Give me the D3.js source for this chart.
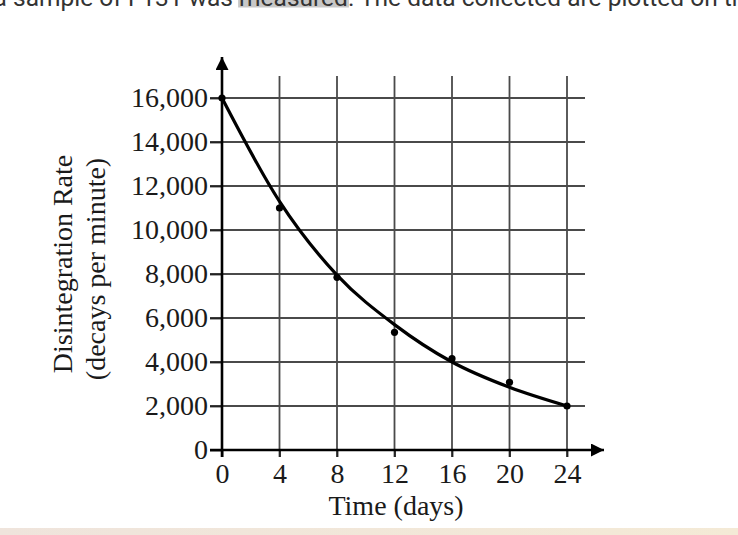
<!DOCTYPE html>
<html>
<head>
<meta charset="utf-8">
<script src="https://cdn.jsdelivr.net/npm/d3@7"></script>
<style>
html,body{margin:0;padding:0;background:#fff;overflow:hidden;}
svg{display:block;}
text{white-space:pre;}
</style>
</head>
<body>
<svg id="chart" width="738" height="535"></svg>
<script>
// Data
const days = [0, 4, 8, 12, 16, 20, 24];
const measuredRates = [16000, 11000, 7850, 5350, 4150, 3080, 2000];
const curveDays = [0, 4, 8, 12, 16, 20, 24];
const curveRates = [16000, 11300, 7950, 5700, 4000, 2850, 2000];
const xTicks = [0, 4, 8, 12, 16, 20, 24];
const yTicks = [0, 2000, 4000, 6000, 8000, 10000, 12000, 14000, 16000];
const xTitle = "Time (days)";
const yTitle1 = "Disintegration Rate";
const yTitle2 = "(decays per minute)";
const topTextA = "a ";
const topTextB = "sample of I-131 was ";
const topTextC = "measured";
const topTextD = ". The data collected are plotted on the graph below.";

const svg = d3.select("#chart");

// bottom beige band
const defs = svg.append("defs");
const grad = defs.append("linearGradient").attr("id", "band").attr("x1", "0").attr("x2", "1");
grad.append("stop").attr("offset", "0").attr("stop-color", "#efe4dc");
grad.append("stop").attr("offset", "1").attr("stop-color", "#f4ead6");
svg.append("rect").attr("x", 0).attr("y", 528).attr("width", 738).attr("height", 7).attr("fill", "url(#band)");

// top clipped text
const topG = svg.append("g").attr("font-family", "Roboto, 'Noto Sans', sans-serif").attr("font-size", 24.5).attr("fill", "#333");
const hl = topG.append("rect").attr("fill", "#c8c8c8");
const tB = topG.append("text").attr("x", 13).attr("y", 6).text(topTextB);
topG.append("text").attr("x", 13).attr("y", 6).attr("text-anchor", "end").text(topTextA);
const wB = tB.node().getComputedTextLength();
const tC = topG.append("text").attr("x", 13 + wB).attr("y", 6).text(topTextC);
const wC = tC.node().getComputedTextLength();
hl.attr("x", 13 + wB - 1).attr("y", -20).attr("width", wC + 2).attr("height", 27.5);
topG.append("text").attr("x", 13 + wB + wC).attr("y", 6).text(topTextD);

// scales
const x = d3.scaleLinear().domain([0, 24]).range([222, 567]);
const y = d3.scaleLinear().domain([0, 16000]).range([450, 98]);

const gridColor = "#4a4a4a";
const serif = "'Liberation Serif', 'DejaVu Serif', serif";
const ink = "#1a1a1a";

// vertical gridlines
svg.append("g").selectAll("line").data(xTicks.filter(d => d > 0)).join("line")
  .attr("x1", d => x(d)).attr("x2", d => x(d))
  .attr("y1", 76).attr("y2", 457)
  .attr("stroke", gridColor).attr("stroke-width", 1.8);

// horizontal gridlines
svg.append("g").selectAll("line").data(yTicks.filter(d => d > 0)).join("line")
  .attr("x1", 210).attr("x2", 585)
  .attr("y1", d => y(d)).attr("y2", d => y(d))
  .attr("stroke", gridColor).attr("stroke-width", 1.8);

// y axis with labels
const yAxis = d3.axisLeft(y).tickValues(yTicks).tickFormat(d3.format(",")).tickSize(12).tickPadding(2);
const yg = svg.append("g").attr("transform", "translate(222,0)").call(yAxis);
yg.select(".domain").remove();
yg.selectAll(".tick line").attr("stroke", "#222").attr("stroke-width", 1.8);
yg.selectAll(".tick text").attr("font-family", serif).attr("font-size", 28).attr("fill", ink);

// x axis labels
const xAxis = d3.axisBottom(x).tickValues(xTicks).tickSize(7).tickPadding(6);
const xg = svg.append("g").attr("transform", "translate(0,450)").call(xAxis);
xg.select(".domain").remove();
xg.selectAll(".tick line").attr("stroke", "#222").attr("stroke-width", 1.8);
xg.selectAll(".tick text").attr("font-family", serif).attr("font-size", 28).attr("fill", ink);

// axis lines with arrows
defs.append("marker").attr("id", "arrow").attr("viewBox", "0 0 10 10")
  .attr("refX", 10).attr("refY", 5).attr("markerWidth", 6.5).attr("markerHeight", 5)
  .attr("markerUnits", "strokeWidth").attr("orient", "auto")
  .append("path").attr("d", "M0,0 L10,5 L0,10 Z").attr("fill", "#000");
svg.append("line").attr("x1", 222).attr("x2", 222).attr("y1", 457).attr("y2", 57)
  .attr("stroke", "#000").attr("stroke-width", 2.6).attr("marker-end", "url(#arrow)");
svg.append("line").attr("x1", 210).attr("x2", 604).attr("y1", 450).attr("y2", 450)
  .attr("stroke", "#000").attr("stroke-width", 2.6).attr("marker-end", "url(#arrow)");

// fitted curve
const line = d3.line().x((d, i) => x(curveDays[i])).y(d => y(d)).curve(d3.curveMonotoneX);
svg.append("path").datum(curveRates).attr("d", line)
  .attr("fill", "none").attr("stroke", "#000").attr("stroke-width", 3.2);

// measured points
svg.append("g").selectAll("circle").data(measuredRates).join("circle")
  .attr("cx", (d, i) => x(days[i])).attr("cy", d => y(d)).attr("r", 3.6).attr("fill", "#000");

// axis titles
svg.append("text").attr("x", 396).attr("y", 515).attr("text-anchor", "middle")
  .attr("font-family", serif).attr("font-size", 28).attr("fill", ink).text(xTitle);
svg.append("text").attr("transform", "translate(72,264) rotate(-90)").attr("text-anchor", "middle")
  .attr("font-family", serif).attr("font-size", 28).attr("fill", ink).text(yTitle1);
svg.append("text").attr("transform", "translate(105,269) rotate(-90)").attr("text-anchor", "middle")
  .attr("font-family", serif).attr("font-size", 28).attr("fill", ink).text(yTitle2);
</script>
</body>
</html>
